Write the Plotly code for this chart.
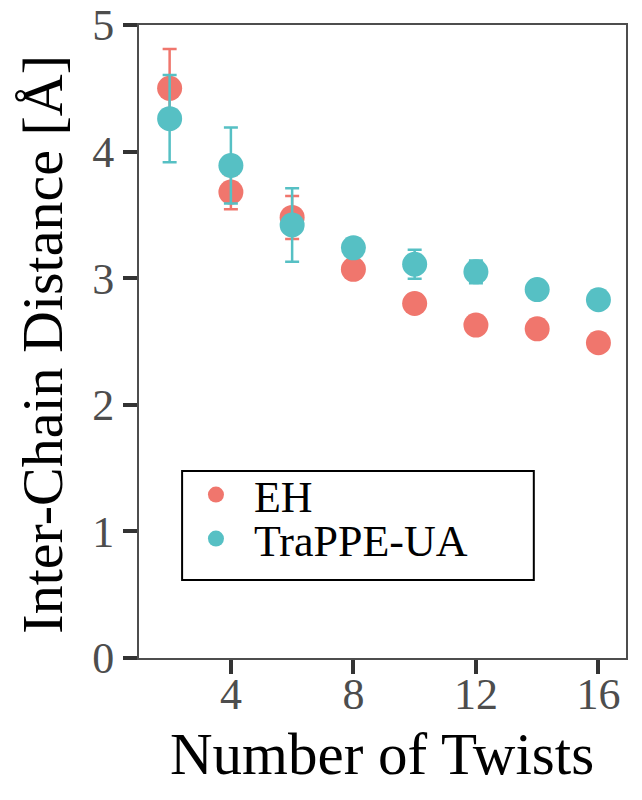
import plotly.graph_objects as go

# data
twists = [2, 4, 6, 8, 10, 12, 14, 16]
eh_dist = [4.50, 3.68, 3.48, 3.07, 2.80, 2.63, 2.60, 2.49]
eh_err = [0.31, 0.135, 0.17, 0.04, 0.0, 0.0, 0.0, 0.0]
trappe_dist = [4.26, 3.89, 3.42, 3.24, 3.11, 3.05, 2.91, 2.83]
trappe_err = [0.345, 0.30, 0.29, 0.03, 0.115, 0.09, 0.02, 0.02]

x_ticks = [4, 8, 12, 16]
y_ticks = [0, 1, 2, 3, 4, 5]

col_eh = "#F0766D"
col_tr = "#56C0C4"
serif = "Liberation Serif"

fig = go.Figure()
fig.add_trace(go.Scatter(
    x=twists, y=eh_dist, mode="markers", name="EH", legend="legend", showlegend=True,
    marker=dict(color=col_eh, size=25),
    error_y=dict(type="data", array=eh_err, color=col_eh, thickness=2.5, width=7),
))
fig.add_trace(go.Scatter(
    x=twists, y=trappe_dist, mode="markers", name="TraPPE-UA", legend="legend2", showlegend=True,
    marker=dict(color=col_tr, size=25),
    error_y=dict(type="data", array=trappe_err, color=col_tr, thickness=2.5, width=7),
))

axis_common = dict(
    showgrid=False, zeroline=False, automargin=False,
    showline=True, linecolor="#4D4D4D", linewidth=2, mirror=True,
    ticks="outside", ticklen=14, tickwidth=4, tickcolor="#333333",
    ticklabeloverflow="allow",
    tickfont=dict(family=serif, size=44, color="#4D4D4D"),
)

fig.update_xaxes(range=[1.0, 16.9], tickvals=x_ticks, ticklabelstandoff=-18, **axis_common)
fig.update_yaxes(range=[0, 5.0], tickvals=y_ticks, **axis_common)

# axis titles
fig.add_annotation(text="Number of Twists", xref="paper", yref="paper",
                   x=0.498, y=-0.151, xanchor="center", yanchor="middle", showarrow=False,
                   font=dict(family=serif, size=59, color="black"))
fig.add_annotation(text="Inter-Chain Distance [Å]", xref="paper", yref="paper",
                   x=-0.200, y=0.496, xanchor="center", yanchor="middle", showarrow=False,
                   textangle=-90, font=dict(family=serif, size=58, color="black"))

# legend frame
fig.add_shape(type="rect", xref="paper", yref="paper",
              x0=0.0885, x1=0.8107, y0=0.1232, y1=0.2954,
              line=dict(color="black", width=2), fillcolor="white", layer="below")

leg_common = dict(xanchor="left", yanchor="middle", bgcolor="rgba(0,0,0,0)",
                  borderwidth=0, itemwidth=66,
                  font=dict(family=serif, size=44, color="black"))

fig.update_layout(
    width=642, height=800,
    margin=dict(l=139, r=16, t=25, b=142),
    plot_bgcolor="white", paper_bgcolor="white",
    font=dict(family=serif),
    showlegend=True,
    legend=dict(x=0.080, y=0.2575, **leg_common),
    legend2=dict(x=0.080, y=0.188, **leg_common),
)

# drop the default 8px page margin so the figure fills the window
fig.write_html("out.html", config={"displayModeBar": False},
               post_script="document.body.style.margin='0';")
